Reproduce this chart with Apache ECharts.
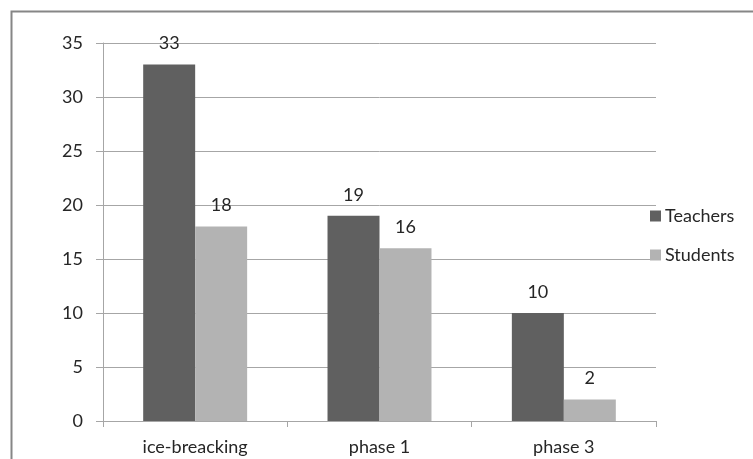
<!DOCTYPE html>
<html>
<head>
<meta charset="utf-8">
<script src="https://cdn.jsdelivr.net/npm/echarts@6/dist/echarts.min.js"></script>
<style>
  html, body { margin: 0; padding: 0; background: #ffffff; }
  #chart { width: 753px; height: 459px; }
</style>
</head>
<body>
<div id="chart"></div>
<script>
const categories = ['ice-breacking', 'phase 1', 'phase 3'];
const teachers = [33, 19, 10];
const students = [18, 16, 2];
const seriesNames = ['Teachers', 'Students'];

const FONT = 'Lato';
const SIZE = 18;
const TEXT = '#262626';

const chart = echarts.init(document.getElementById('chart'), null, { renderer: 'canvas' });

chart.setOption({
  backgroundColor: '#ffffff',
  animation: false,
  graphic: [{
    type: 'rect',
    left: 9, top: 9,
    shape: { width: 800, height: 500 },
    style: { fill: 'none', stroke: '#868686', lineWidth: 2 },
    silent: true
  }],
  legend: {
    orient: 'vertical',
    left: 650,
    top: 207,
    padding: 0,
    itemWidth: 11,
    itemHeight: 11,
    itemGap: 21,
    icon: 'rect',
    textStyle: { fontFamily: FONT, fontSize: SIZE, color: TEXT, padding: [0, 0, 0, -1] },
    data: seriesNames
  },
  grid: { left: 103, right: 97, top: 43, bottom: 38, containLabel: false },
  xAxis: {
    type: 'category',
    data: categories,
    axisLine: { lineStyle: { color: '#a6a6a6', width: 1 } },
    axisTick: { show: true, length: 6, lineStyle: { color: '#a6a6a6' } },
    axisLabel: { fontFamily: FONT, fontSize: SIZE, color: TEXT, margin: 17 }
  },
  yAxis: {
    type: 'value',
    min: 0, max: 35, interval: 5,
    axisLine: { show: true, lineStyle: { color: '#a6a6a6', width: 1 } },
    axisTick: { show: true, length: 7, lineStyle: { color: '#a6a6a6' } },
    axisLabel: { fontFamily: FONT, fontSize: SIZE, color: TEXT, margin: 20 },
    splitLine: { lineStyle: { color: '#a6a6a6', width: 1 } }
  },
  series: [
    {
      name: seriesNames[0],
      type: 'bar',
      data: teachers,
      barGap: '0%',
      barCategoryGap: '43.6%',
      itemStyle: { color: '#606060' },
      label: { show: true, position: 'top', distance: 12, fontFamily: FONT, fontSize: SIZE, color: TEXT }
    },
    {
      name: seriesNames[1],
      type: 'bar',
      data: students,
      barGap: '0%',
      barCategoryGap: '43.6%',
      itemStyle: { color: '#b3b3b3' },
      label: { show: true, position: 'top', distance: 12, fontFamily: FONT, fontSize: SIZE, color: TEXT }
    }
  ]
});
</script>
</body>
</html>
